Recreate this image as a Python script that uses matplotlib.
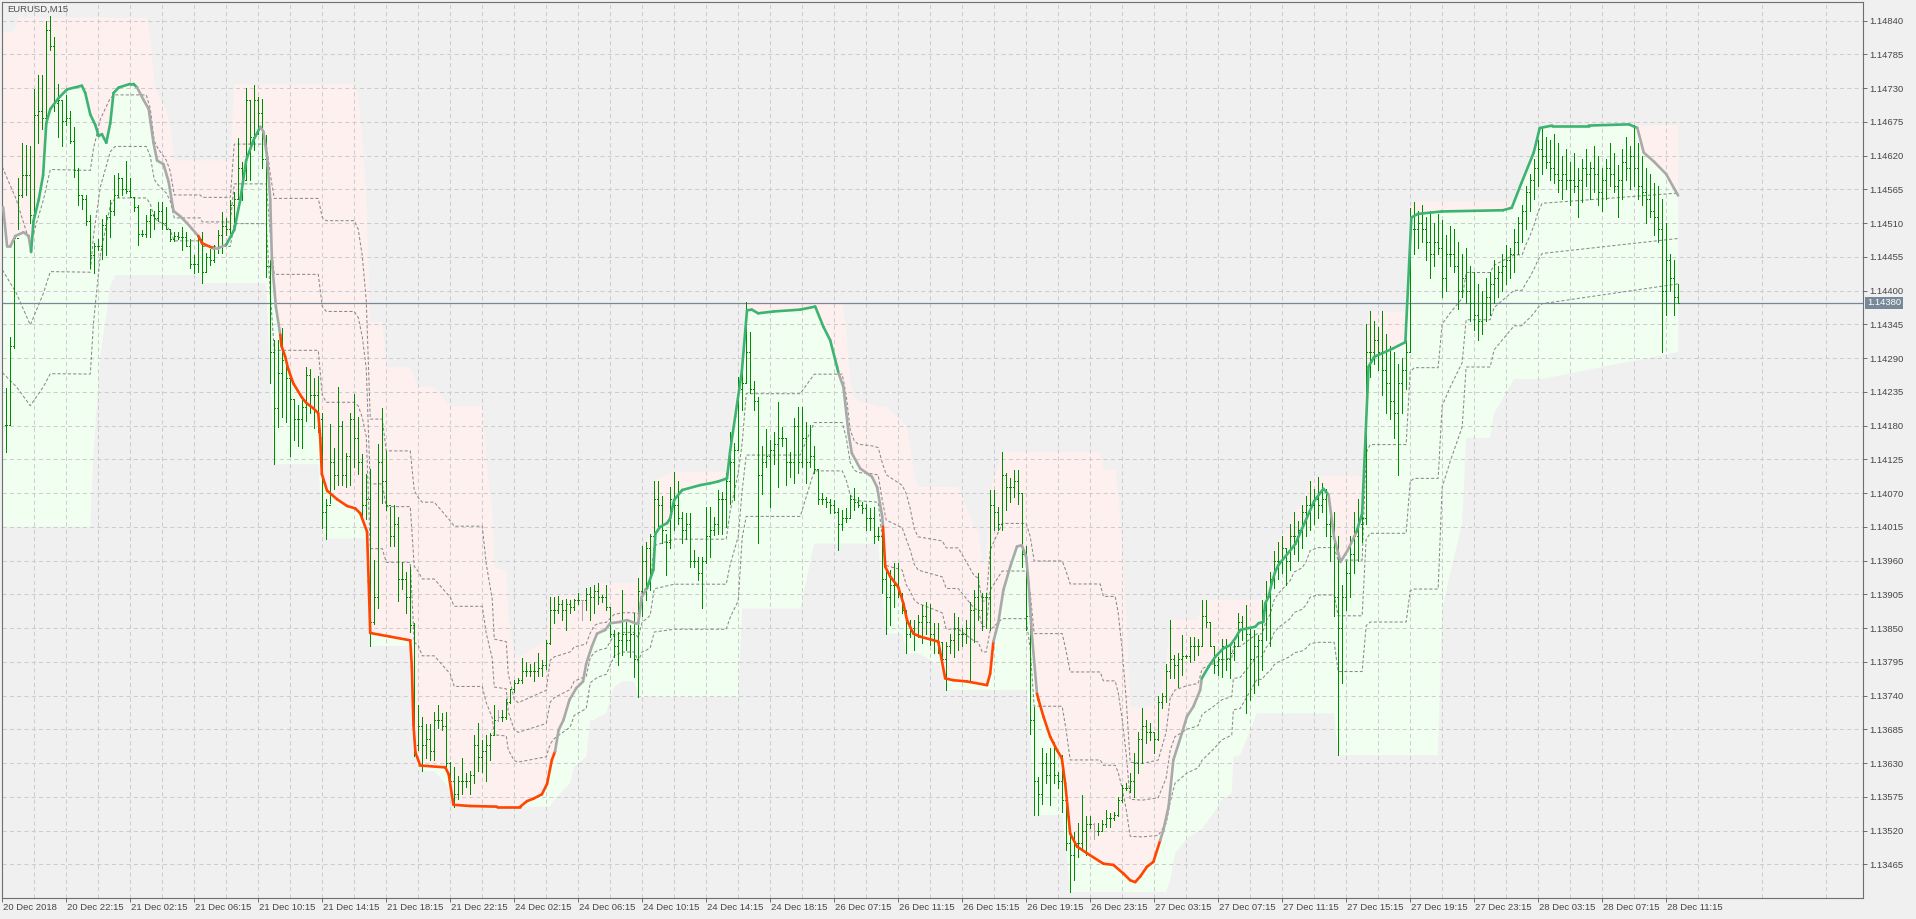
import numpy as np
import matplotlib
matplotlib.use("Agg")
import matplotlib.pyplot as plt
from matplotlib.collections import LineCollection
from matplotlib.transforms import blended_transform_factory

plt.rcParams['font.family'] = ['Liberation Sans', 'DejaVu Sans']

# prices are stored in points above BASE
BASE = 1.13400
PT = 0.00001

# M15 bars, first visible bar sits at index 1
high = [
    842, 924, 1090, 1183, 1241, 1238, 1235, 1328, 1352, 1352,
    1439, 1448, 1413, 1337, 1311, 1319, 1293, 1267, 1200, 1156,
    1156, 1124, 1078, 1084, 1116, 1124, 1148, 1189, 1191, 1183,
    1212, 1183, 1151, 1139, 1098, 1124, 1133, 1130, 1145, 1145,
    1136, 1098, 1095, 1095, 1104, 1095, 1084, 1058, 1087, 1095,
    1062, 1068, 1075, 1099, 1128, 1118, 1148, 1161, 1248, 1210,
    1330, 1311, 1335, 1316, 1313, 1254, 1050, 920, 920, 939,
    887, 858, 823, 814, 826, 875, 872, 858, 861, 800,
    660, 782, 744, 843, 788, 736, 800, 832, 794, 733,
    701, 709, 561, 750, 808, 739, 648, 651, 631, 558,
    541, 549, 459, 325, 305, 293, 293, 313, 325, 311,
    313, 232, 223, 209, 238, 214, 217, 276, 296, 267,
    276, 279, 325, 316, 316, 334, 351, 366, 369, 401,
    395, 392, 395, 410, 398, 430, 500, 500, 503, 496,
    498, 496, 498, 507, 496, 515, 517, 520, 523, 504,
    520, 482, 447, 444, 512, 460, 455, 474, 531, 583,
    591, 604, 690, 690, 665, 604, 680, 705, 690, 640,
    637, 637, 577, 566, 566, 648, 648, 631, 675, 672,
    702, 770, 751, 860, 868, 982, 933, 852, 827, 746,
    775, 757, 770, 819, 778, 760, 737, 792, 811, 811,
    786, 781, 746, 710, 670, 664, 661, 659, 645, 642,
    645, 667, 678, 664, 656, 653, 645, 648, 615, 610,
    550, 545, 556, 556, 507, 480, 463, 463, 471, 488,
    493, 490, 458, 458, 428, 428, 441, 474, 468, 450,
    463, 493, 512, 539, 507, 507, 675, 675, 648, 737,
    702, 694, 708, 708, 670, 583, 469, 322, 208, 254,
    246, 254, 265, 216, 243, 186, 121, 118, 132, 178,
    143, 143, 132, 132, 137, 153, 148, 151, 175, 194,
    197, 213, 246, 281, 319, 300, 295, 281, 340, 344,
    392, 463, 406, 409, 439, 406, 436, 436, 433, 496,
    496, 460, 420, 403, 433, 433, 420, 428, 474, 469,
    488, 450, 447, 439, 496, 526, 542, 575, 590, 600,
    580, 620, 640, 625, 650, 665, 690, 677, 697, 687,
    677, 650, 640, 600, 520, 560, 600, 640, 660, 650,
    946, 966, 950, 940, 966, 930, 910, 900, 880, 890,
    920, 1135, 1145, 1130, 1140, 1120, 1130, 1110, 1125, 1115,
    1090, 1105, 1100, 1080, 1060, 1070, 1040, 1030, 1010, 1000,
    1020, 1030, 1050, 1040, 1060, 1075, 1070, 1100, 1120, 1140,
    1170, 1190, 1215, 1245, 1265, 1250, 1245, 1255, 1240, 1220,
    1230, 1210, 1225, 1200, 1215, 1230, 1210, 1235, 1220, 1200,
    1215, 1240, 1225, 1205, 1230, 1250, 1235, 1270, 1240, 1220,
    1200, 1190, 1175, 1170, 1150, 1110, 1060, 1050, 1010,
]
low = [
    737, 781, 906, 1101, 1153, 1156, 1110, 1124, 1241, 1264,
    1282, 1392, 1293, 1250, 1235, 1270, 1241, 1185, 1139, 1133,
    1107, 1037, 1028, 1066, 1052, 1058, 1087, 1124, 1153, 1156,
    1159, 1153, 1130, 1075, 1089, 1087, 1087, 1101, 1113, 1101,
    1101, 1081, 1081, 1084, 1066, 1072, 1037, 1028, 1031, 1012,
    1030, 1042, 1047, 1062, 1062, 1091, 1094, 1099, 1150, 1148,
    1180, 1180, 1229, 1256, 1200, 1023, 849, 717, 778, 794,
    786, 730, 756, 747, 744, 788, 800, 776, 770, 613,
    596, 654, 677, 683, 683, 680, 683, 712, 701, 631,
    628, 421, 456, 482, 654, 642, 584, 584, 494, 514,
    474, 444, 241, 252, 217, 238, 235, 235, 287, 284,
    223, 188, 159, 171, 180, 191, 180, 197, 217, 215,
    200, 235, 276, 299, 299, 302, 328, 346, 360, 360,
    372, 372, 363, 372, 372, 383, 424, 459, 474, 463,
    447, 474, 479, 490, 463, 479, 463, 474, 490, 493,
    479, 436, 403, 390, 406, 414, 403, 371, 338, 469,
    496, 512, 580, 615, 588, 536, 580, 610, 620, 588,
    596, 550, 550, 528, 482, 556, 566, 602, 604, 604,
    615, 653, 659, 740, 805, 850, 833, 805, 588, 669,
    713, 648, 718, 680, 746, 683, 697, 686, 702, 713,
    686, 713, 702, 653, 653, 648, 637, 637, 577, 610,
    623, 630, 642, 648, 637, 610, 610, 588, 593, 507,
    441, 455, 485, 501, 474, 409, 436, 414, 436, 425,
    441, 422, 409, 409, 387, 349, 409, 403, 414, 420,
    425, 365, 428, 463, 447, 450, 447, 610, 610, 610,
    642, 656, 664, 653, 550, 447, 278, 145, 145, 164,
    197, 162, 197, 189, 151, 88, 20, 39, 77, 91,
    80, 124, 107, 113, 121, 126, 126, 137, 143, 167,
    186, 183, 175, 213, 230, 262, 267, 246, 268, 319,
    330, 368, 368, 354, 373, 401, 395, 398, 406, 420,
    452, 420, 376, 373, 371, 382, 368, 398, 420, 431,
    311, 333, 344, 357, 382, 431, 420, 515, 530, 540,
    520, 545, 570, 560, 580, 600, 610, 620, 630, 640,
    600, 560, 470, 243, 360, 480, 500, 540, 560, 590,
    620, 860, 880, 870, 830, 800, 790, 760, 700, 800,
    840, 900, 1060, 1070, 1080, 1050, 1020, 1040, 1060, 990,
    1000, 1040, 1030, 970, 990, 980, 950, 935, 920, 930,
    950, 960, 980, 990, 1000, 1010, 1020, 1030, 1060, 1080,
    1100, 1130, 1150, 1170, 1190, 1200, 1180, 1175, 1160, 1150,
    1165, 1140, 1160, 1120, 1145, 1170, 1150, 1160, 1140, 1130,
    1150, 1170, 1160, 1120, 1150, 1180, 1165, 1170, 1150, 1140,
    1110, 1120, 1090, 1080, 900, 960, 1000, 960, 980,
]
close = [
    781, 909, 1085, 1156, 1188, 1188, 1124, 1287, 1293, 1282,
    1424, 1398, 1305, 1311, 1276, 1282, 1244, 1197, 1156, 1150,
    1113, 1058, 1072, 1072, 1107, 1120, 1130, 1156, 1183, 1165,
    1162, 1153, 1136, 1093, 1093, 1113, 1124, 1119, 1130, 1110,
    1101, 1084, 1089, 1087, 1087, 1072, 1043, 1043, 1084, 1030,
    1055, 1050, 1070, 1090, 1105, 1100, 1140, 1150, 1200, 1180,
    1310, 1250, 1310, 1290, 1215, 1040, 900, 808, 865, 887,
    858, 823, 790, 790, 810, 862, 830, 830, 790, 640,
    650, 720, 700, 780, 700, 730, 790, 760, 720, 650,
    660, 460, 500, 720, 690, 650, 600, 620, 530, 530,
    500, 455, 260, 290, 260, 270, 250, 300, 300, 290,
    230, 200, 180, 200, 200, 200, 210, 260, 240, 250,
    260, 276, 300, 305, 305, 330, 350, 360, 365, 380,
    380, 380, 380, 385, 390, 425, 480, 480, 490, 480,
    490, 485, 495, 496, 496, 505, 500, 510, 500, 500,
    485, 440, 420, 430, 440, 430, 440, 400, 510, 560,
    580, 600, 660, 650, 610, 590, 660, 650, 630, 610,
    620, 560, 560, 540, 560, 600, 610, 620, 660, 660,
    690, 720, 740, 840, 850, 900, 840, 820, 700, 720,
    730, 740, 750, 760, 760, 720, 720, 780, 720, 760,
    720, 730, 710, 660, 660, 655, 650, 640, 620, 630,
    630, 660, 655, 650, 645, 630, 630, 600, 600, 530,
    500, 520, 520, 505, 480, 440, 450, 440, 460, 470,
    460, 440, 430, 428, 400, 420, 430, 450, 440, 440,
    450, 480, 500, 480, 500, 500, 650, 640, 620, 700,
    680, 680, 690, 670, 570, 470, 300, 200, 180, 230,
    210, 230, 210, 200, 170, 100, 80, 100, 100, 120,
    130, 130, 120, 120, 130, 140, 140, 145, 170, 190,
    190, 200, 230, 270, 290, 280, 280, 270, 330, 340,
    380, 400, 390, 400, 405, 405, 420, 420, 420, 470,
    460, 420, 390, 400, 420, 400, 410, 420, 460, 450,
    440, 400, 420, 430, 480, 500, 530, 560, 560, 580,
    560, 600, 600, 610, 640, 650, 650, 660, 650, 660,
    620, 600, 500, 450, 500, 540, 570, 600, 620, 630,
    900, 900, 920, 900, 870, 850, 820, 800, 850, 870,
    900, 1100, 1100, 1110, 1100, 1080, 1060, 1080, 1070, 1020,
    1060, 1060, 1040, 1000, 1020, 1000, 980, 960, 950, 980,
    990, 1010, 1020, 1030, 1040, 1050, 1060, 1080, 1110, 1130,
    1160, 1180, 1200, 1230, 1220, 1210, 1200, 1190, 1180, 1190,
    1180, 1180, 1170, 1180, 1200, 1190, 1200, 1190, 1160, 1180,
    1200, 1190, 1170, 1180, 1210, 1200, 1220, 1200, 1170, 1160,
    1150, 1130, 1120, 1100, 1000, 1050, 1020, 990, 980,
]
gray_bars = [124, 145, 273]

# channel edges (pink top / green bottom), vertices at bar positions
chan_x = [0, 3, 4, 22, 22.8, 24.5, 27, 28.25, 36, 37, 38, 39, 41, 42, 43, 49.5, 50, 57, 58, 66,
          67, 68, 79, 80, 81, 88, 89, 90, 91, 92, 95, 96, 102, 103, 104, 105, 108, 112, 113, 120,
          121, 122.5, 123, 126, 126.5, 128, 129, 136, 137, 138, 142, 143, 146, 147, 148, 149, 151, 153, 155, 158,
          159, 160, 161, 162, 163, 168, 181, 182, 184, 185, 186, 199.5, 203, 210, 211, 212, 213, 214, 217.5, 219,
          220, 221, 225, 226, 227, 228, 229, 235, 236, 239, 241, 243, 244, 245, 246, 247, 250, 256, 257, 258,
          265, 266, 267, 274.5, 275.3, 278.25, 279, 280, 281, 282, 285, 289, 291, 292, 293.2, 296.2, 299, 300, 302.8, 304.9,
          307.4, 307.8, 309.5, 313.7, 315, 316, 317, 318, 319, 320, 322, 323, 325, 326, 327, 329, 333, 334, 340, 341,
          342, 351, 352, 353, 359, 360, 362, 365, 366, 372, 373, 378, 380, 381, 382, 383, 384, 385, 419]
chan_hi = [1422, 1422, 1445, 1445, 1445, 1445, 1445, 1445, 1445, 1413, 1337, 1319, 1293, 1267, 1212, 1212, 1212, 1212, 1336, 1336,
           1336, 1336, 1336, 1336, 1336, 1336, 1316, 1254, 1150, 949, 949, 875, 875, 860, 843, 843, 843, 812, 812, 812,
           724, 642, 549, 543, 468, 409, 401, 430, 500, 503, 503, 503, 503, 503, 520, 523, 523, 523, 523, 523,
           531, 583, 591, 604, 690, 705, 705, 770, 860, 868, 982, 982, 982, 982, 933, 852, 827, 819, 815, 811,
           811, 811, 786, 781, 746, 699, 680, 680, 680, 680, 648, 615, 610, 556, 556, 675, 737, 737, 737, 737,
           737, 737, 737, 737, 708, 708, 670, 583, 469, 322, 319, 327, 392, 463, 463, 463, 463, 496, 496, 496,
           496, 496, 496, 496, 496, 526, 542, 575, 590, 600, 620, 640, 650, 665, 690, 697, 697, 697, 697, 946,
           966, 966, 1135, 1145, 1145, 1145, 1145, 1145, 1145, 1145, 1145, 1145, 1145, 1170, 1190, 1215, 1245, 1265, 1270]
chan_lo = [615, 615, 615, 615, 734, 892, 1008, 1025, 1025, 1025, 1025, 1025, 1025, 1025, 1025, 1025, 1012, 1012, 1012, 1012,
           849, 717, 717, 613, 596, 596, 596, 596, 596, 421, 421, 421, 421, 241, 241, 217, 217, 188, 159, 159,
           159, 159, 159, 159, 159, 159, 159, 159, 159, 170, 197, 224, 240, 300, 300, 305, 311, 354, 363, 363,
           338, 338, 338, 338, 338, 338, 338, 338, 338, 482, 482, 482, 588, 588, 588, 588, 588, 588, 588, 588,
           507, 441, 441, 409, 409, 409, 409, 387, 349, 349, 349, 349, 349, 349, 349, 349, 349, 349, 278, 145,
           145, 88, 20, 20, 20, 20, 20, 20, 20, 20, 20, 20, 20, 39, 83, 107, 119, 123, 148, 170,
           181, 240, 243, 311, 311, 311, 311, 311, 311, 311, 311, 311, 311, 311, 311, 311, 311, 243, 243, 243,
           243, 243, 243, 243, 243, 480, 540, 620, 760, 760, 800, 856, 856, 856, 856, 856, 856, 856, 900]

# the dashed channel differs from the band only over the first bars
dash_x0 = [0, 3.5, 7, 10.3, 12]
dash_hi0 = [1453, 1377, 1273, 1377, 1447]
dash_lo0 = [615, 615, 615, 615, 615]
dash_levels = [0.3, 0.5, 0.7]

# trend line: n = neutral (grey), g = rising (green), r = falling (red);
# the code on each vertex is the colour of the segment that ends there
line_x = [0.2, 1.2, 2, 3.25, 5.3, 6.6, 7.2, 7.8, 9.1, 10.2, 11, 12, 14.1, 16.2, 19.9, 20.75, 22, 23.25, 24.1, 24.9,
          26, 27, 27.8, 29.1, 32, 32.8, 33.7, 35.3, 36.6, 37.8, 38.7, 40.3, 41.6, 42.8, 44.5, 46.2, 47.4, 49, 50, 52.8,
          54, 56, 58, 59.5, 61, 62.8, 64.5, 65.3, 66.2, 67, 67.4, 68.4, 69.5, 69.8, 70.7, 71.5, 72.75, 74.9, 76, 77.8,
          79, 79.5, 79.9, 81.2, 83.7, 86.2, 88.25, 89.5, 91.2, 91.6, 92, 94.5, 97, 102, 102.4, 102.8, 103.3, 104.5, 110.75, 111.6,
          112.8, 117, 123.7, 129.5, 131.2, 132.8, 134.9, 136.2, 137.4, 138.2, 139.1, 140.3, 141.8, 143.5, 145.2, 146, 147.4, 148.7, 150.75, 152,
          154.5, 156.2, 158.25, 159, 159.9, 161.2, 161.6, 162.8, 163.3, 164.5, 166.2, 167, 167.4, 168, 170, 174.5, 177, 179, 181.2, 182,
          183.25, 184.9, 186.2, 187.4, 189, 192.8, 199.5, 203.25, 205.3, 207, 208.7, 209.1, 210.3, 211.6, 212.4, 214.5, 217.4, 218.7, 220, 220.2,
          220.75, 222, 224, 225.3, 226.2, 227.8, 229.5, 234, 235.75, 237.8, 241.2, 246.2, 247, 247.8, 249, 250.3, 252, 253.7, 254.9, 256,
          256.6, 257.4, 258.7, 259.1, 260.3, 262, 263.7, 264.9, 265.75, 266.6, 267, 268.7, 271.2, 275.3, 277.8, 280.3, 282, 283.25, 284.5, 286.2,
          287.8, 289.5, 290.3, 291.6, 292.8, 294.9, 296.2, 297.8, 299.5, 299.9, 301.6, 303.25, 305.3, 307, 308.25, 309.5, 311.6, 313.25, 314.1, 315.3,
          315.75, 316.6, 317.4, 318.25, 319.1, 323.3, 328, 330.3, 331.6, 333, 334.6, 336.4, 338.6, 340, 341.6, 343, 347.8, 350.8, 352.3, 353.9,
          359.9, 375.2, 377.4, 379.8, 382.9, 384.4, 387.5, 396.6, 406.7, 408.8, 410.4, 413, 416, 419]
line_v = [1136, 1072, 1072, 1089, 1095, 1089, 1063, 1113, 1148, 1188, 1273, 1296, 1314, 1328, 1334, 1322, 1287, 1270, 1252, 1255,
          1241, 1273, 1322, 1331, 1337, 1337, 1331, 1311, 1296, 1241, 1212, 1206, 1177, 1130, 1121, 1110, 1101, 1089, 1077, 1069,
          1069, 1075, 1099, 1148, 1213, 1245, 1267, 1259, 1218, 1148, 1050, 974, 928, 910, 893, 872, 849, 826, 817, 808,
          800, 759, 701, 674, 660, 649, 645, 637, 607, 526, 442, 439, 436, 430, 386, 293, 247, 226, 223, 212,
          162, 160, 159, 159, 168, 172, 179, 196, 235, 249, 284, 300, 333, 352, 363, 392, 420, 441, 447, 458,
          460, 463, 458, 458, 501, 515, 523, 545, 604, 615, 621, 629, 642, 659, 675, 683, 686, 689, 694, 740,
          795, 868, 968, 969, 963, 966, 969, 974, 941, 919, 876, 865, 843, 767, 735, 710, 697, 680, 632, 615,
          550, 534, 517, 490, 463, 441, 436, 428, 368, 365, 363, 357, 376, 428, 458, 512, 550, 583, 585, 566,
          523, 441, 343, 333, 306, 273, 251, 238, 197, 142, 115, 94, 83, 66, 64, 50, 39, 36, 45, 61,
          69, 104, 121, 159, 235, 278, 306, 322, 349, 368, 387, 403, 417, 422, 433, 447, 450, 452, 458, 460,
          490, 501, 523, 542, 553, 587, 657, 677, 667, 597, 558, 577, 607, 637, 876, 892, 906, 916, 1119, 1125,
          1129, 1131, 1135, 1175, 1225, 1265, 1269, 1269, 1271, 1265, 1225, 1210, 1190, 1155]
line_c = ("nnnnnnn" "ggggggggggggg"
          "ggggggg" "nnnnnnnnnnn" "rr"
          "nn" "ggggg" "nnnnnn" "rrrrrrr"
          "rrrrrrrrrrrrrrrrrrrr"
          "rrrrrrrrrr" "nnnnnnnnnn"
          "nnnnnn" "gggggggggggggg"
          "gggggggggggg" "nnnnnnnn"
          "rrrrrrrrrrrrrr" "nnnnnn"
          "nnn" "rrrrrrrrrrrrrrrrr"
          "rr" "nnnnnnnn" "gggggggggg"
          "ggggggggg" "nnnn" "ggggggg"
          "gggggggggg" "nnnn")

price_ticks = [1.13465, 1.13520, 1.13575, 1.13630, 1.13685, 1.13740, 1.13795, 1.13850, 1.13905,
               1.13960, 1.14015, 1.14070, 1.14125, 1.14180, 1.14235, 1.14290, 1.14345, 1.14400,
               1.14455, 1.14510, 1.14565, 1.14620, 1.14675, 1.14730, 1.14785, 1.14840]
time_labels = ["20 Dec 2018", "20 Dec 22:15", "21 Dec 02:15", "21 Dec 06:15", "21 Dec 10:15",
               "21 Dec 14:15", "21 Dec 18:15", "21 Dec 22:15", "24 Dec 02:15", "24 Dec 06:15",
               "24 Dec 10:15", "24 Dec 14:15", "24 Dec 18:15", "26 Dec 07:15", "26 Dec 11:15",
               "26 Dec 15:15", "26 Dec 19:15", "26 Dec 23:15", "27 Dec 03:15", "27 Dec 07:15",
               "27 Dec 11:15", "27 Dec 15:15", "27 Dec 19:15", "27 Dec 23:15", "28 Dec 03:15",
               "28 Dec 07:15", "28 Dec 11:15"]
bars_per_label = 16
last_price = 1.14380

assert len(high) == len(low) == len(close)
assert len(line_x) == len(line_v) == len(line_c)
assert len(chan_x) == len(chan_hi) == len(chan_lo)

# ---- convert to prices
def px(v):
    return BASE + np.asarray(v, dtype=float) * PT

H, L, C = px(high), px(low), px(close)
O = np.r_[C[0], C[:-1]]
xb = np.arange(1, len(H) + 1)
cx, chi, clo = np.asarray(chan_x, float), px(chan_hi), px(chan_lo)
lx, lv = np.asarray(line_x, float), px(line_v)

# ---- figure
W, Hpx = 1916, 919
fig = plt.figure(figsize=(W / 100, Hpx / 100), dpi=100, facecolor='#f0f0f0')
left, right, top, bottom = 2.3, 1863.3, 2.3, 898.3
ax = fig.add_axes([left / W, (Hpx - bottom) / Hpx, (right - left) / W, (bottom - top) / Hpx])
ax.set_facecolor('#f0f0f0')
ax.set_xlim(0.075, 465.3)
ax.set_ylim(1.134096, 1.148699)

# pink above the trend line, green below it
ax.fill(np.r_[cx, lx[::-1]], np.r_[chi, lv[::-1]], color='#fff0f0', lw=0, zorder=0.2)
ax.fill(np.r_[lx, cx[::-1]], np.r_[lv, clo[::-1]], color='#f0fff0', lw=0, zorder=0.2)

# grid
ax.set_axisbelow(True)
ax.set_yticks(price_ticks)
ax.set_yticklabels([f"{t:.5f}" for t in price_ticks])
label_pos = np.arange(len(time_labels)) * bars_per_label
ax.set_xticks(label_pos)
ax.set_xticklabels([])
ax.set_xticks(np.arange(8, 466, 16), minor=True)
ax.grid(which='both', color='#cdcdcd', lw=0.75, ls=(0, (4, 3)))

# dashed channel levels
keep = cx > dash_x0[-1]
dx = np.r_[dash_x0, cx[keep]]
dhi = np.r_[px(dash_hi0), chi[keep]]
dlo = np.r_[px(dash_lo0), clo[keep]]
for k in dash_levels:
    ax.plot(dx, dlo + k * (dhi - dlo), color='#8a8a8a', lw=0.75, ls=(0, (3, 2)), zorder=1.5)

# last price line
ax.axhline(last_price, color='#778899', lw=0.9, zorder=1.6)

# OHLC bars
cols = ['#a8a8a8' if i in gray_bars else '#008c00' for i in xb]
ax.vlines(xb, L, H, colors=cols, lw=0.72, zorder=2, antialiased=False)
ax.hlines(O, xb - 0.3, xb, colors=cols, lw=0.72, zorder=2, antialiased=False)
ax.hlines(C, xb, xb + 0.3, colors=cols, lw=0.72, zorder=2, antialiased=False)

# trend line with colour states
palette = {'n': '#a9a9a9', 'g': '#3cb371', 'r': '#ff4500'}
segs = [[(lx[k], lv[k]), (lx[k + 1], lv[k + 1])] for k in range(len(lx) - 1)]
seg_cols = [palette[line_c[k + 1]] for k in range(len(lx) - 1)]
ax.add_collection(LineCollection(segs, colors=seg_cols, linewidths=1.9, capstyle='round', zorder=3))

# axes styling
for s in ax.spines.values():
    s.set_color('#6e6e6e')
    s.set_linewidth(0.8)
ax.yaxis.tick_right()
ax.tick_params(axis='y', which='major', direction='out', length=3, width=0.7, color='#6e6e6e',
               pad=1.5, labelsize=6.8, labelcolor='#464646')
ax.tick_params(axis='x', which='major', direction='out', length=3, width=0.7, color='#6e6e6e')
ax.tick_params(axis='x', which='minor', length=0)

xt = ax.get_xaxis_transform()
for pos, lab in zip(label_pos, time_labels):
    ax.text(pos + 0.2, -0.0108, lab, transform=xt, ha='left', va='center', fontsize=6.8, color='#464646')

ax.text(0.0024, 0.9925, 'EURUSD,M15', transform=ax.transAxes, ha='left', va='center',
        fontsize=6.8, color='#505050')

bt = blended_transform_factory(ax.transAxes, ax.transData)
ax.text(1.0 + 3.6 / (right - left), last_price, f"{last_price:.5f}", transform=bt, ha='left', va='center',
        fontsize=6.8, color='white', zorder=5,
        bbox=dict(boxstyle='square,pad=0.18', fc='#778899', ec='none'))

fig.savefig('out.png', dpi=100, facecolor=fig.get_facecolor())
